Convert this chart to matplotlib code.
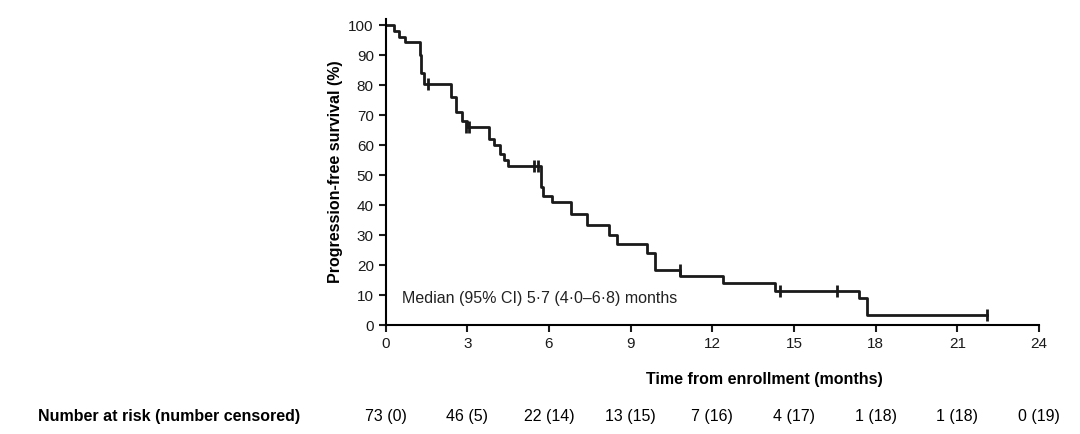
import matplotlib.pyplot as plt

plt.rcParams['font.family'] = ['Liberation Sans', 'DejaVu Sans']

# step curve (time in months, PFS %)
times = [0, 0.3, 0.5, 0.7, 1.25, 1.3, 1.4, 2.4, 2.6, 2.8, 3.0, 3.8, 4.0, 4.2, 4.35, 4.5,
         5.7, 5.8, 6.1, 6.8, 7.4, 8.2, 8.5, 9.6, 9.9, 10.8, 12.4, 14.3, 17.4, 17.7, 22.1]
surv = [100, 98, 96, 94.5, 90, 84, 80.5, 76, 71, 68, 66, 62, 60, 57, 55, 53,
        46, 43, 41, 37, 33.5, 30, 27, 24, 18.5, 16.5, 14, 11.5, 9, 3.3, 3.3]
censor_t = [1.55, 2.95, 3.05, 5.45, 5.6, 10.8, 14.5, 16.6, 22.1]
censor_s = [80.5, 66, 66, 53, 53, 18.5, 11.5, 11.5, 3.3]

risk_labels = ["73 (0)", "46 (5)", "22 (14)", "13 (15)", "7 (16)", "4 (17)",
               "1 (18)", "1 (18)", "0 (19)"]
xticks = list(range(0, 25, 3))
yticks = list(range(0, 101, 10))

fig = plt.figure(figsize=(10.8, 4.34), dpi=100)
ax = fig.add_axes([0.357, 0.251, 0.605, 0.705])
ax.step(times, surv, where='post', color='#1a1a1a', linewidth=2)
ax.plot(censor_t, censor_s, linestyle='none', marker='|', markersize=9,
        markeredgewidth=2, color='#1a1a1a')

ax.set_xlim(0, 24)
ax.set_ylim(0, 102)
ax.set_xticks(xticks)
ax.set_yticks(yticks)
ax.tick_params(direction='out', length=5, width=1.5, labelsize=11, colors='#1a1a1a')
for s in ['top', 'right']:
    ax.spines[s].set_visible(False)
for s in ['left', 'bottom']:
    ax.spines[s].set_linewidth(1.5)
ax.set_xlabel('Time from enrollment (months)', fontweight='bold', fontsize=11.5)
ax.xaxis.set_label_coords(0.58, -0.155)
ax.set_ylabel('Progression-free survival (%)', fontweight='bold', fontsize=11.5)
ax.text(0.6, 7.5, 'Median (95% CI) 5·7 (4·0–6·8) months', fontsize=11.5, color='#222222')

fig.text(0.035, 0.04, 'Number at risk (number censored)', fontweight='bold',
         fontsize=11.5, va='center')
for t, lab in zip(xticks, risk_labels):
    x = 0.357 + 0.605 * t / 24
    fig.text(x, 0.04, lab, fontsize=11.5, ha='center', va='center')

fig.savefig('out.png', dpi=100)
